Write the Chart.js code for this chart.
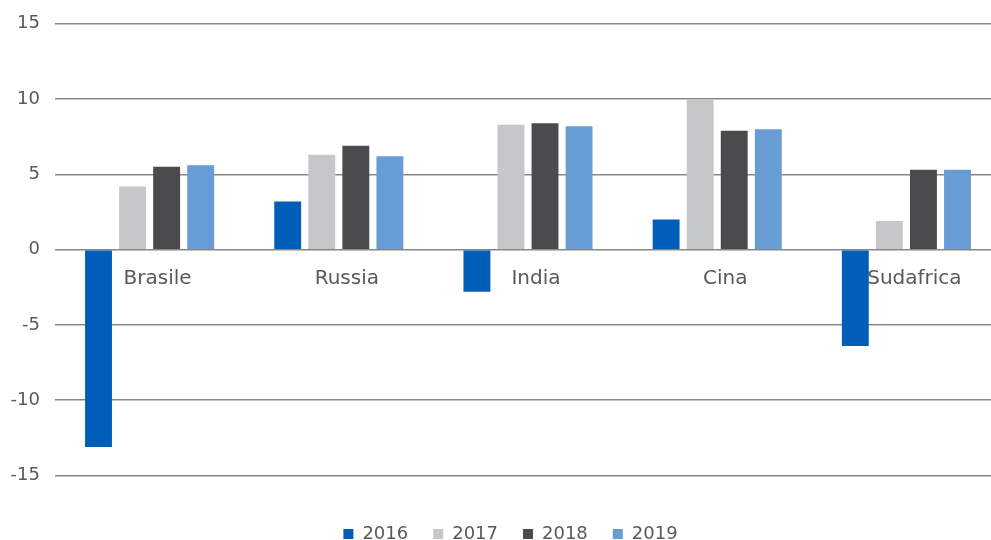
<!DOCTYPE html>
<html>
<head>
<meta charset="utf-8">
<script src="https://cdn.jsdelivr.net/npm/chart.js@4/dist/chart.umd.min.js"></script>
<style>
  html, body { margin: 0; padding: 0; background: #fff; overflow: hidden; }
  #wrap { position: relative; width: 1001px; height: 555px; margin-top: -2px; }
</style>
</head>
<body>
<div id="wrap"><canvas id="brics-chart"></canvas></div>
<script>
// ==================== DATI ====================
const categorie = ['Brasile', 'Russia', 'India', 'Cina', 'Sudafrica'];
const anni = ['2016', '2017', '2018', '2019'];
const valori2016 = [-13.1, 3.2, -2.8, 2.0, -6.4];
const valori2017 = [4.2, 6.3, 8.3, 10.0, 1.9];
const valori2018 = [5.5, 6.9, 8.4, 7.9, 5.3];
const valori2019 = [5.6, 6.2, 8.2, 8.0, 5.3];
const colori = ['#005EB8', '#C6C7C9', '#4B4B4D', '#679DD4'];

const FONT = '"DejaVu Sans", sans-serif';
const TESTO = '#595959';

const serie = [valori2016, valori2017, valori2018, valori2019];

// la legenda sta un po' a destra del centro della tela
const spostaLegenda = {
  id: 'spostaLegenda',
  afterLayout(chart) {
    if (!chart.legend) return;
    chart.legend.left += 10;
    chart.legend.right += 10;
  }
};

new Chart(document.getElementById('brics-chart').getContext('2d'), {
  type: 'bar',
  data: {
    labels: categorie,
    datasets: serie.map((vals, i) => ({
      label: anni[i],
      data: vals,
      backgroundColor: colori[i],
      borderWidth: 0,
      categoryPercentage: 0.72,
      barPercentage: 0.79
    }))
  },
  plugins: [spostaLegenda],
  options: {
    responsive: true,
    maintainAspectRatio: false,
    animation: false,
    layout: { padding: { left: 0, top: 18, right: 0, bottom: 0 } },
    plugins: {
      tooltip: { enabled: false },
      legend: {
        position: 'bottom',
        title: { display: true, text: '', font: { size: 10 }, padding: { top: 12.5, bottom: 0 } },
        labels: {
          boxWidth: 10, boxHeight: 10, padding: 25, color: TESTO,
          font: { family: FONT, size: 18 }
        }
      }
    },
    scales: {
      x: {
        position: { y: 0 },
        grid: { display: false },
        border: { display: false },
        ticks: { color: TESTO, font: { family: FONT, size: 20 }, padding: 9, labelOffset: 8 }
      },
      y: {
        min: -15, max: 15,
        afterFit: (scale) => { scale.width = 55; },
        grid: { color: '#878787', lineWidth: 1.5, drawTicks: false },
        border: { display: false },
        ticks: {
          stepSize: 5, padding: 15, color: TESTO,
          font: { family: FONT, size: 18 },
          callback: (v) => String(v)
        }
      }
    }
  }
});
</script>
</body>
</html>
